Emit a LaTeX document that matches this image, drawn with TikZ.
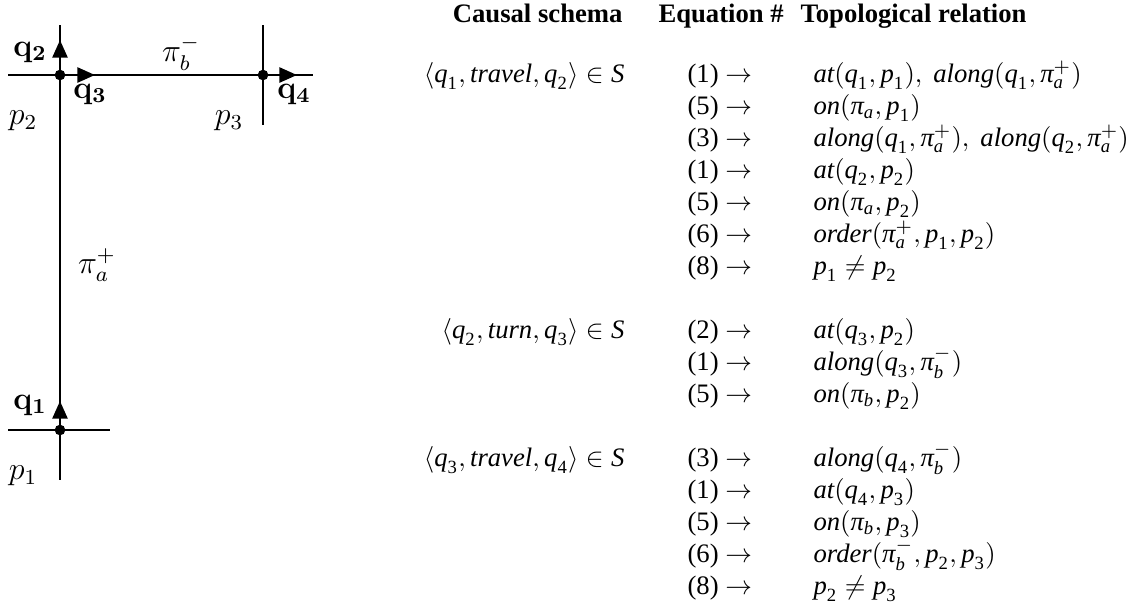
\documentclass[tikz,border=0pt]{standalone}
\usepackage{amsmath}
\usepackage[no-math]{fontspec}
\setmainfont{Liberation Serif}
\usetikzlibrary{arrows.meta}

% Times-like italic letters for the table
\newcommand{\mi}[1]{\text{\itshape #1}}
\newcommand{\tq}[1]{\mi{q}_{\text{#1}}}
\newcommand{\tp}[1]{\mi{p}_{\text{#1}}}
\newcommand{\tpi}[1]{\mi{π}_{\mi{#1}}}

\begin{document}
\begin{tikzpicture}[x=.375pt, y=-.375pt, >={Triangle[length=6.6pt, width=5.6pt]}]
	\def\xm{60}		% main road
	\def\xr{263}		% right road
	\def\yt{75}		% top road
	\def\yb{430}		% bottom road
	\def\xs{625}		% schema column (right edge)
	\def\xe{687}		% equation column
	\def\xt{813}		% relation column
	\def\yr{82}		% baseline of the first row
	\def\dy{32}		% row step

	\tikzset{
		road/.style={line width=.55pt},
		move/.style={->, line width=1pt},
		lbl/.style={font=\large, inner sep=0pt},
		hdr/.style={font=\bfseries, inner sep=0pt},
		cell/.style={inner sep=0pt}
	}

	\useasboundingbox (0, 0) rectangle (1140, 602);

	% Crossings and road ends
	\coordinate (x1) at (\xm, \yb);		% lower crossing
	\coordinate (x2) at (\xm, \yt);		% upper left crossing
	\coordinate (x3) at (\xr, \yt);		% upper right crossing
	\coordinate (ma) at (\xm, 25);
	\coordinate (mb) at (\xm, 480);
	\coordinate (ta) at (8, \yt);
	\coordinate (tb) at (313, \yt);
	\coordinate (ra) at (\xr, 25);
	\coordinate (rb) at (\xr, 125);
	\coordinate (ba) at (8, \yb);
	\coordinate (bb) at (110, \yb);

	% Roads
	\draw[road] (ma) -- (mb);
	\draw[road] (ta) -- (tb);
	\draw[road] (ra) -- (rb);
	\draw[road] (ba) -- (bb);

	% Headings of the moves
	\coordinate (h1) at (\xm, 401);
	\coordinate (h2) at (\xm, 40);
	\coordinate (h3) at (95, \yt);
	\coordinate (h4) at (297, \yt);
	\draw[move] (x1) -- (h1);
	\draw[move] (x2) -- (h2);
	\draw[move] (x2) -- (h3);
	\draw[move] (x3) -- (h4);
	\foreach \c in {x1, x2, x3}
		\fill (\c) circle (2pt);

	% Labels
	\node[lbl] (q1) at (30, 405) {$\mathbf{q_1}$};
	\node[lbl] (q2) at (30, 52) {$\mathbf{q_2}$};
	\node[lbl] (q3) at (90, 94) {$\mathbf{q_3}$};
	\node[lbl] (q4) at (294, 94) {$\mathbf{q_4}$};
	\node[lbl] (p1) at (23, 476) {$p_1$};
	\node[lbl] (p2) at (23, 121) {$p_2$};
	\node[lbl] (p3) at (229, 121) {$p_3$};
	\node[lbl] (pa) at (97, 265) {$\pi_a^+$};
	\node[lbl] (pb) at (181, 53) {$\pi_b^-$};

	% Table head
	\node[hdr, anchor=base east] (hs) at (623, 22) {Causal schema};
	\node[hdr, anchor=base west] (he) at (658, 22) {Equation \#};
	\node[hdr, anchor=base west] (ht) at (800, 22) {Topological relation};

	% Causal schemas
	\node[cell, anchor=base east] (s1) at (\xs, \yr) {$\langle \tq{1}, \mi{travel}, \tq{2} \rangle \in \mi{S}$};
	\node[cell, anchor=base east] (s2) at (\xs, \yr+8*\dy) {$\langle \tq{2}, \mi{turn}, \tq{3} \rangle \in \mi{S}$};
	\node[cell, anchor=base east] (s3) at (\xs, \yr+12*\dy) {$\langle \tq{3}, \mi{travel}, \tq{4} \rangle \in \mi{S}$};

	% Equation numbers
	\foreach \r/\e in {0/1, 1/5, 2/3, 3/1, 4/5, 5/6, 6/8, 8/2, 9/1, 10/5, 12/3, 13/1, 14/5, 15/6, 16/8}
		\node[cell, anchor=base west] (e\r) at (\xe, \yr+\r*\dy) {(\e) $\rightarrow$};

	% Topological relations
	\node[cell, anchor=base west] (t0) at (\xt, \yr) {$\mi{at}(\tq{1}, \tp{1}),\ \mi{along}(\tq{1}, \tpi{a}^{+})$};
	\node[cell, anchor=base west] (t1) at (\xt, \yr+\dy) {$\mi{on}(\tpi{a}, \tp{1})$};
	\node[cell, anchor=base west] (t2) at (\xt, \yr+2*\dy) {$\mi{along}(\tq{1}, \tpi{a}^{+}),\ \mi{along}(\tq{2}, \tpi{a}^{+})$};
	\node[cell, anchor=base west] (t3) at (\xt, \yr+3*\dy) {$\mi{at}(\tq{2}, \tp{2})$};
	\node[cell, anchor=base west] (t4) at (\xt, \yr+4*\dy) {$\mi{on}(\tpi{a}, \tp{2})$};
	\node[cell, anchor=base west] (t5) at (\xt, \yr+5*\dy) {$\mi{order}(\tpi{a}^{+}, \tp{1}, \tp{2})$};
	\node[cell, anchor=base west] (t6) at (\xt, \yr+6*\dy) {$\tp{1} \neq \tp{2}$};

	\node[cell, anchor=base west] (t8) at (\xt, \yr+8*\dy) {$\mi{at}(\tq{3}, \tp{2})$};
	\node[cell, anchor=base west] (t9) at (\xt, \yr+9*\dy) {$\mi{along}(\tq{3}, \tpi{b}^{-})$};
	\node[cell, anchor=base west] (t10) at (\xt, \yr+10*\dy) {$\mi{on}(\tpi{b}, \tp{2})$};

	\node[cell, anchor=base west] (t12) at (\xt, \yr+12*\dy) {$\mi{along}(\tq{4}, \tpi{b}^{-})$};
	\node[cell, anchor=base west] (t13) at (\xt, \yr+13*\dy) {$\mi{at}(\tq{4}, \tp{3})$};
	\node[cell, anchor=base west] (t14) at (\xt, \yr+14*\dy) {$\mi{on}(\tpi{b}, \tp{3})$};
	\node[cell, anchor=base west] (t15) at (\xt, \yr+15*\dy) {$\mi{order}(\tpi{b}^{-}, \tp{2}, \tp{3})$};
	\node[cell, anchor=base west] (t16) at (\xt, \yr+16*\dy) {$\tp{2} \neq \tp{3}$};
\end{tikzpicture}
\end{document}
